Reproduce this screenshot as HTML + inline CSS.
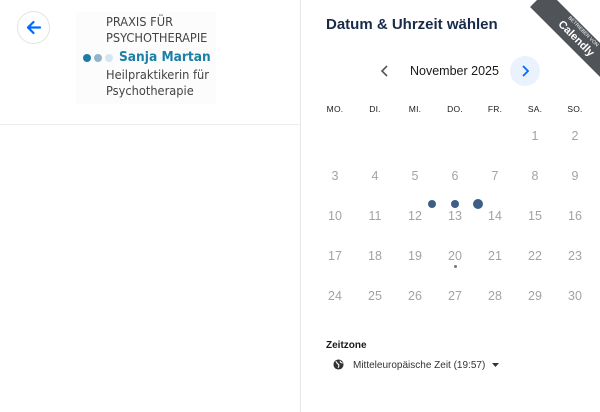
<!DOCTYPE html>
<html><head><meta charset="utf-8"><style>
*{margin:0;padding:0;box-sizing:border-box}
body{width:600px;height:412px;background:#fff;position:relative;overflow:hidden;font-family:"Liberation Sans",sans-serif}
.a{position:absolute}
.logo{font-family:"DejaVu Sans Condensed","Liberation Sans Narrow","Liberation Sans",sans-serif;color:#444;font-size:13px;line-height:16px;white-space:nowrap}
.d{position:absolute;width:40px;text-align:center;font-size:12.5px;color:#a3a3a3;transform:translateX(-20px)}
.h{position:absolute;width:40px;text-align:center;font-size:8.5px;color:#1a1a1a;transform:translateX(-20px);letter-spacing:.2px}
</style></head><body>
<div class="a" style="left:300px;top:0;width:1px;height:412px;background:#e6e6e6"></div>
<div class="a" style="left:0;top:124px;width:300px;height:1px;background:#ebebeb"></div>
<div class="a" style="left:17px;top:11px;width:33px;height:33px;border:1px solid #e3e3e3;border-radius:50%"></div>
<svg class="a" style="left:23px;top:17px" width="21" height="21" viewBox="0 0 21 21"><path d="M17 10.5H5M10.5 5L5 10.5l5.5 5.5" stroke="#0069ff" stroke-width="2.2" fill="none" stroke-linecap="round" stroke-linejoin="round"/></svg>
<div class="a" style="left:76px;top:12px;width:140px;height:92px;background:#fcfcfc"></div>
<div class="a logo" style="left:106px;top:14px;font-size:12.7px">PRAXIS FÜR<br>PSYCHOTHERAPIE</div>
<div class="a" style="left:83px;top:54px;width:8px;height:8px;border-radius:50%;background:#1d7aa6"></div>
<div class="a" style="left:94px;top:54px;width:8px;height:8px;border-radius:50%;background:#8fb4cc"></div>
<div class="a" style="left:105px;top:54px;width:8px;height:8px;border-radius:50%;background:#d4e6f1"></div>
<div class="a logo" style="left:119px;top:49px;color:#1b7fa8;font-weight:bold;font-size:13.6px">Sanja Martan</div>
<div class="a logo" style="left:106px;top:67px;font-size:12.7px">Heilpraktikerin für<br>Psychotherapie</div>
<div class="a" style="left:326px;top:16px;font-size:15px;font-weight:bold;color:#1a2b49">Datum &amp; Uhrzeit wählen</div>
<div class="a" style="left:547px;top:-10px;width:110px;height:24px;background:#505459;transform:rotate(45deg);transform-origin:0 0;color:#fff;text-align:center">
<div style="font-size:5px;line-height:7px;margin-top:1px">BETRIEBEN VON</div><div style="font-size:11px;font-weight:bold;line-height:13px">Calendly</div></div>
<svg class="a" style="left:378px;top:64px" width="14" height="14"><path d="M9 2L4 7l5 5" stroke="#555" stroke-width="1.6" fill="none"/></svg>
<div class="a" style="left:410px;top:64px;font-size:12.5px;color:#1a1a1a">November 2025</div>
<div class="a" style="left:510px;top:56px;width:30px;height:30px;border-radius:50%;background:#eaf2fe"></div>
<svg class="a" style="left:518px;top:64px" width="14" height="14"><path d="M5 2l5 5-5 5" stroke="#0069ff" stroke-width="1.8" fill="none"/></svg>
<div class="h" style="left:335px;top:104px">MO.</div><div class="h" style="left:375px;top:104px">DI.</div><div class="h" style="left:415px;top:104px">MI.</div><div class="h" style="left:455px;top:104px">DO.</div><div class="h" style="left:495px;top:104px">FR.</div><div class="h" style="left:535px;top:104px">SA.</div><div class="h" style="left:575px;top:104px">SO.</div>
<div class="d" style="left:535px;top:129px">1</div><div class="d" style="left:575px;top:129px">2</div>
<div class="d" style="left:335px;top:169px">3</div><div class="d" style="left:375px;top:169px">4</div><div class="d" style="left:415px;top:169px">5</div><div class="d" style="left:455px;top:169px">6</div><div class="d" style="left:495px;top:169px">7</div><div class="d" style="left:535px;top:169px">8</div><div class="d" style="left:575px;top:169px">9</div>
<div class="d" style="left:335px;top:209px">10</div><div class="d" style="left:375px;top:209px">11</div><div class="d" style="left:415px;top:209px">12</div><div class="d" style="left:455px;top:209px">13</div><div class="d" style="left:495px;top:209px">14</div><div class="d" style="left:535px;top:209px">15</div><div class="d" style="left:575px;top:209px">16</div>
<div class="d" style="left:335px;top:249px">17</div><div class="d" style="left:375px;top:249px">18</div><div class="d" style="left:415px;top:249px">19</div><div class="d" style="left:455px;top:249px">20</div><div class="d" style="left:495px;top:249px">21</div><div class="d" style="left:535px;top:249px">22</div><div class="d" style="left:575px;top:249px">23</div>
<div class="d" style="left:335px;top:289px">24</div><div class="d" style="left:375px;top:289px">25</div><div class="d" style="left:415px;top:289px">26</div><div class="d" style="left:455px;top:289px">27</div><div class="d" style="left:495px;top:289px">28</div><div class="d" style="left:535px;top:289px">29</div><div class="d" style="left:575px;top:289px">30</div>
<div class="a" style="left:454px;top:265px;width:3px;height:3px;border-radius:50%;background:#777"></div>
<div class="a" style="left:428px;top:200px;width:8px;height:8px;border-radius:50%;background:#3d5f85"></div>
<div class="a" style="left:451px;top:200px;width:8px;height:8px;border-radius:50%;background:#3d5f85"></div>
<div class="a" style="left:473px;top:199px;width:10px;height:10px;border-radius:50%;background:#3d5f85"></div>
<div class="a" style="left:326px;top:340px;font-size:10px;font-weight:bold;color:#1a1a1a">Zeitzone</div>
<svg class="a" style="left:333px;top:359px" width="11" height="11" viewBox="0 0 12 12"><circle cx="6" cy="6" r="5.5" fill="#333"/><path d="M3 2.5c1.5 1 1 2.5 2.5 3s1 2.5 0 4M8 2c-.5 1.5 1 2 2.5 2.5" stroke="#fff" stroke-width="1.2" fill="none"/></svg>
<div class="a" style="left:353px;top:360px;font-size:10px;color:#333">Mitteleuropäische Zeit (19:57)</div>
<svg class="a" style="left:492px;top:363px" width="7" height="5"><path d="M0 0h7L3.5 4z" fill="#333"/></svg>
</body></html>
